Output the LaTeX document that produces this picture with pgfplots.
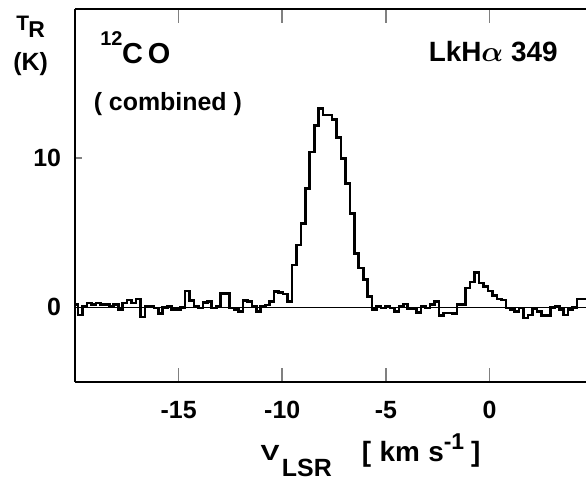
\documentclass[border=0pt]{standalone}
\usepackage{fontspec}
\setmainfont{Liberation Sans}
\usepackage{amsmath}
\usepackage{pgfplots}
\pgfplotsset{compat=1.18}
\pgfplotstableread{
x y
-20.065 0.18
-19.850 -0.5
-19.635 0.05
-19.420 0.3
-19.205 0.2
-18.990 0.3
-18.775 0.2
-18.560 0.18
-18.345 0.1
-18.130 0.18
-17.915 -0.15
-17.700 0.3
-17.485 0.5
-17.270 0.3
-17.055 0.55
-16.840 -0.65
-16.625 0.05
-16.410 0.1
-16.195 -0.05
-15.980 -0.4
-15.765 0.0
-15.550 0.1
-15.335 -0.15
-15.120 -0.15
-14.905 0.0
-14.690 1.1
-14.475 0.45
-14.260 0.05
-14.045 -0.05
-13.830 0.33
-13.615 0.4
-13.400 -0.05
-13.185 0.05
-12.970 0.95
-12.755 0.95
-12.540 -0.05
-12.325 -0.15
-12.110 -0.27
-11.895 0.45
-11.680 0.4
-11.465 0.05
-11.250 -0.27
-11.035 0.05
-10.820 0.15
-10.605 0.4
-10.390 1.07
-10.175 1.0
-9.960 0.9
-9.745 0.4
-9.530 2.85
-9.315 4.19
-9.100 5.64
-8.885 7.97
-8.670 10.42
-8.455 12.2
-8.240 13.32
-8.025 12.9
-7.810 12.9
-7.595 12.6
-7.380 11.4
-7.165 9.98
-6.950 8.31
-6.735 6.31
-6.520 3.63
-6.305 2.63
-6.090 1.85
-5.875 0.73
-5.660 -0.15
-5.445 0.07
-5.230 -0.05
-5.015 0.1
-4.800 -0.05
-4.585 -0.27
-4.370 0.1
-4.155 0.22
-3.940 -0.1
-3.725 -0.1
-3.510 -0.33
-3.295 0.1
-3.080 -0.05
-2.865 0.18
-2.650 0.4
-2.435 -0.55
-2.220 -0.38
-2.005 -0.38
-1.790 -0.42
-1.575 0.18
-1.360 0.18
-1.145 1.3
-0.930 1.7
-0.715 2.34
-0.500 1.63
-0.285 1.4
-0.070 1.1
0.145 0.78
0.360 0.56
0.575 0.5
0.790 -0.04
1.005 -0.15
1.220 -0.27
1.435 -0.05
1.650 -0.7
1.865 -0.5
2.080 -0.1
2.295 -0.27
2.510 -0.55
2.725 -0.55
2.940 0.0
3.155 0.1
3.370 -0.15
3.585 -0.5
3.800 -0.15
4.015 0.0
4.230 0.55
4.445 0.55
4.660 0.55
}\spectrum
\begin{document}
\begin{tikzpicture}[x=1bp,y=1bp]
\useasboundingbox (-37.5,-49.5) rectangle (255.5,191);
\begin{axis}[at={(0,0)}, anchor=south west, scale only axis,
  width=255.5bp, height=186.5bp,
  xmin=-20, xmax=4.66, ymin=-5, ymax=20,
  axis x line=box, axis y line=left,
  y axis line style={-},
  axis line style={line width=0.9bp},
  tick align=inside,
  xtick={-15,-10,-5,0}, xticklabels={-15,-10,-5,0},
  ytick={0,10}, yticklabels={0,10},
  xtick style={line width=0.8bp, /pgfplots/major tick length=7bp},
  ytick style={line width=0.8bp, /pgfplots/major tick length=3.5bp},
  tick label style={font=\fontsize{12.5}{14}\selectfont\bfseries},
  xticklabel style={yshift=-6bp},
  yticklabel style={xshift=-3.5bp},
]
\addplot[black, line width=0.9bp] coordinates {(-20,0) (4.66,0)};
\addplot[const plot mark left, black, line width=1.3bp] table[x=x,y=y] {\spectrum};
\end{axis}
% labels
\node[anchor=base west, inner sep=0, font=\fontsize{10.5}{12}\selectfont\bfseries] at (-29.5,176) {T};
\node[anchor=base west, inner sep=0, font=\fontsize{11.5}{13}\selectfont\bfseries] at (-23.5,172.5) {R};
\node[anchor=base west, inner sep=0, font=\fontsize{12.5}{14}\selectfont\bfseries] at (-31,156) {(K)};
\node[anchor=base west, inner sep=0, font=\fontsize{10}{11}\selectfont\bfseries] at (12.5,168.5) {12};
\node[anchor=base west, inner sep=0, font=\fontsize{14.5}{16}\selectfont\bfseries] at (23.4,159.5) {C\,O};
\node[anchor=base west, inner sep=0, font=\fontsize{12.5}{14}\selectfont\bfseries] at (9.2,136) {( combined )};
\node[anchor=base west, inner sep=0, font=\fontsize{14}{16}\selectfont\bfseries] at (176.7,160.2) {LkH$\boldsymbol{\alpha}$ 349};
\node[anchor=base west, inner sep=0, font=\fontsize{11}{12}\selectfont\bfseries, xscale=1.3] at (92.5,-39) {V};
\node[anchor=base west, inner sep=0, font=\fontsize{12.5}{14}\selectfont\bfseries] at (103.3,-47.3) {LSR};
\node[anchor=base west, inner sep=0, font=\fontsize{14}{16}\selectfont\bfseries] at (143.3,-39.5) {[\hspace{0.3em}km\hspace{0.3em}s\raisebox{0.42em}{\fontsize{11.5}{13}\selectfont -1}\hspace{0.25em}]};
\end{tikzpicture}
\end{document}
